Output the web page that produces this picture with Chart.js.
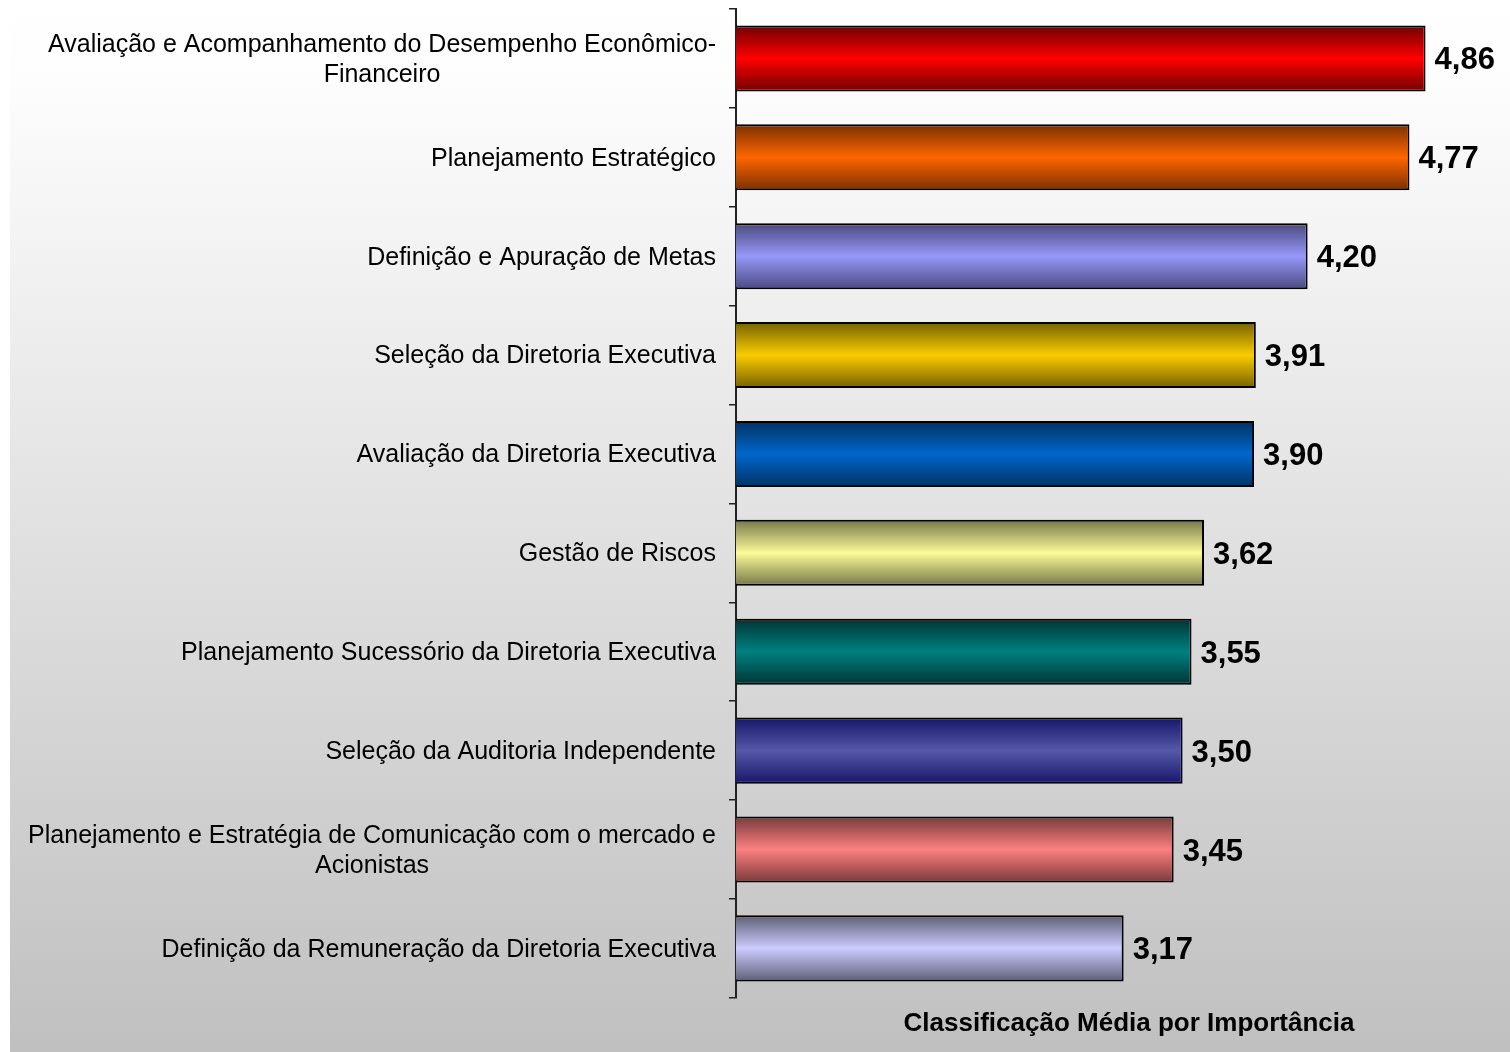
<!DOCTYPE html>
<html>
<head>
<meta charset="utf-8">
<script src="https://cdn.jsdelivr.net/npm/chart.js@4"></script>
<style>
html,body{margin:0;padding:0;background:#fff;overflow:hidden;width:1510px;height:1052px;}
#wrap{width:1528px;height:1052px;position:relative;}
</style>
</head>
<body>
<div id="wrap"><canvas id="c" width="1528" height="1052"></canvas></div>
<script>
const categories = [
  ["Avaliação e Acompanhamento do Desempenho Econômico-", "Financeiro"],
  ["Planejamento Estratégico"],
  ["Definição e Apuração de Metas"],
  ["Seleção da Diretoria Executiva"],
  ["Avaliação da Diretoria Executiva"],
  ["Gestão de Riscos"],
  ["Planejamento Sucessório da Diretoria Executiva"],
  ["Seleção da Auditoria Independente"],
  ["Planejamento e Estratégia de Comunicação com o mercado e", "Acionistas"],
  ["Definição da Remuneração da Diretoria Executiva"]
];
const values = [4.86, 4.77, 4.20, 3.91, 3.90, 3.62, 3.55, 3.50, 3.45, 3.17];
const midColors = ["#FF0000", "#FF6600", "#9797F9", "#FACC00", "#0066CC", "#FBFB97", "#008080", "#5858AA", "#FC8080", "#CCCCFF"];
const edgeColors = ["#700000", "#7A3000", "#4A4A7E", "#766000", "#003264", "#76764A", "#003434", "#16166A", "#783A3A", "#5E5E76"];
const axisTitle = "Classificação Média por Importância";
const xMin = 1, xMax = 5.4;

const FONT = "'Liberation Sans', Arial, sans-serif";
const BAR_PCT = 0.668;

const bgPlugin = {
  id: 'bg',
  beforeDraw(chart) {
    const c = chart.ctx;
    c.save();
    c.fillStyle = '#ffffff';
    c.fillRect(0, 0, chart.width, chart.height);
    const g = c.createLinearGradient(0, 0, 0, chart.height);
    g.addColorStop(0, '#ffffff');
    g.addColorStop(0.08, '#fdfdfd');
    g.addColorStop(1, '#c0c0c0');
    c.fillStyle = g;
    c.fillRect(10, 0, chart.width - 10, chart.height);
    c.restore();
  }
};

const labelPlugin = {
  id: 'labels',
  afterDatasetsDraw(chart) {
    const c = chart.ctx;
    const ys = chart.scales.y;
    c.save();
    c.font = "25px " + FONT;
    c.fillStyle = '#000';
    c.textBaseline = 'middle';
    const rightX = 716;
    const lh = 30;
    categories.forEach((lines, i) => {
      const yc = ys.getPixelForValue(i) + 1.5;
      const widths = lines.map(l => c.measureText(l).width);
      const widest = Math.max(...widths);
      const centerX = rightX - widest / 2;
      lines.forEach((l, k) => {
        const y = yc + (k - (lines.length - 1) / 2) * lh;
        c.textAlign = lines.length > 1 ? 'center' : 'right';
        c.fillText(l, lines.length > 1 ? centerX : rightX, y);
      });
    });
    const meta = chart.getDatasetMeta(0);
    c.font = "bold 31px " + FONT;
    c.textAlign = 'left';
    meta.data.forEach((bar, i) => {
      c.fillText(values[i].toFixed(2).replace('.', ','), bar.x + 9, bar.y + 2.5);
    });
    c.restore();
  }
};

new Chart(document.getElementById('c'), {
  type: 'bar',
  data: {
    labels: categories,
    datasets: [{
      data: values,
      backgroundColor: (ctx) => {
        if (ctx.type !== 'data') return midColors[0];
        const chart = ctx.chart;
        const area = chart.chartArea;
        const i = ctx.dataIndex;
        if (!area || !chart.scales.y) return midColors[i];
        const y = chart.scales.y.getPixelForValue(i);
        const h = area.height / categories.length * BAR_PCT;
        const g = chart.ctx.createLinearGradient(0, y - h / 2, 0, y + h / 2);
        g.addColorStop(0, edgeColors[i]);
        g.addColorStop(0.5, midColors[i]);
        g.addColorStop(1, edgeColors[i]);
        return g;
      },
      borderColor: '#000',
      borderWidth: 2,
      borderSkipped: false,
      barPercentage: BAR_PCT,
      categoryPercentage: 1
    }]
  },
  options: {
    indexAxis: 'y',
    responsive: false,
    animation: false,
    events: [],
    layout: { padding: { left: 0, right: 6, top: 9, bottom: 9 } },
    plugins: { legend: { display: false }, tooltip: { enabled: false } },
    scales: {
      x: {
        min: xMin, max: xMax,
        grid: { display: false },
        border: { display: false },
        ticks: { display: false },
        title: {
          display: true, text: axisTitle, color: '#000',
          font: { family: FONT, size: 26, weight: 'bold' },
          padding: { top: 2, bottom: 4 }
        }
      },
      y: {
        offset: true,
        grid: { display: true, drawOnChartArea: false, drawTicks: true, tickLength: 7, color: '#222', lineWidth: 1.5, offset: true },
        border: { display: true, color: '#222', width: 2 },
        ticks: { display: false },
        afterFit(scale) { scale.width = 736; }
      }
    }
  },
  plugins: [bgPlugin, labelPlugin]
});
</script>
</body>
</html>
